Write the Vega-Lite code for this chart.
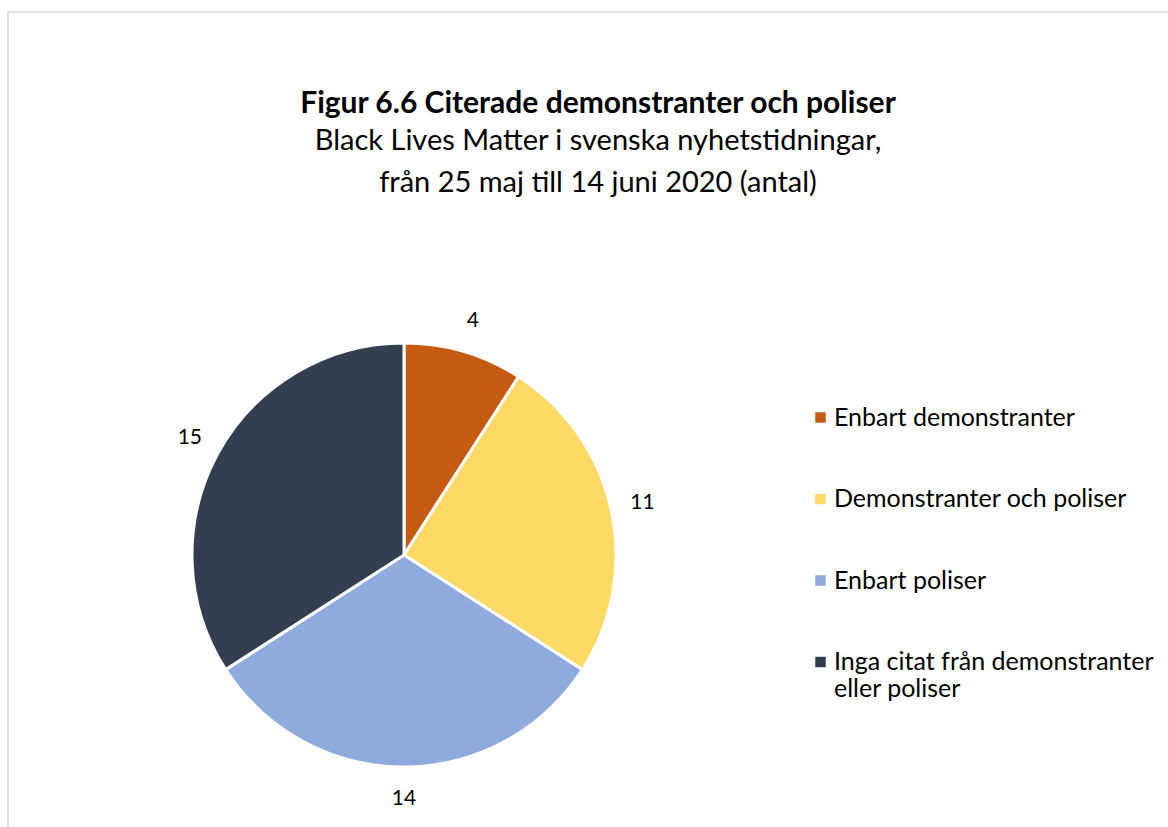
{
  "$schema": "https://vega.github.io/schema/vega-lite/v6.json",
  "autosize": {"type": "none"},
  "width": 1164,
  "height": 820,
  "padding": {"left": 8, "top": 12, "right": -4, "bottom": -5},
  "background": "white",
  "config": {
    "view": {"stroke": "#d9d9d9", "strokeWidth": 1.5},
    "font": "Lato"
  },
  "title": {
    "text": "Figur 6.6 Citerade demonstranter och poliser",
    "subtitle": ["Black Lives Matter i svenska nyhetstidningar,", "från 25 maj till 14 juni 2020 (antal)"],
    "anchor": "middle",
    "font": "Lato",
    "fontSize": 30,
    "fontWeight": "bold",
    "color": "#000000",
    "subtitleFont": "Lato",
    "subtitleFontSize": 29,
    "subtitleColor": "#000000",
    "subtitleLineHeight": 42,
    "subtitlePadding": 8,
    "dx": 8,
    "dy": 190
  },
  "data": {
    "values": [
      {"kategori": "Enbart demonstranter", "antal": 4},
      {"kategori": "Demonstranter och poliser", "antal": 11},
      {"kategori": "Enbart poliser", "antal": 14},
      {"kategori": "Inga citat från demonstranter eller poliser", "antal": 15}
    ]
  },
  "encoding": {
    "theta": {"field": "antal", "type": "quantitative", "stack": true},
    "order": {"field": "antal", "type": "quantitative", "sort": "ascending"},
    "x": {"value": 396},
    "y": {"value": 543}
  },
  "layer": [
    {
      "mark": {"type": "arc", "outerRadius": 212, "stroke": "white", "strokeWidth": 3},
      "encoding": {
        "color": {
          "field": "kategori",
          "type": "nominal",
          "scale": {
            "domain": ["Enbart demonstranter", "Demonstranter och poliser", "Enbart poliser", "Inga citat från demonstranter eller poliser"],
            "range": ["#C55A11", "#FFD966", "#8FAADC", "#333F50"]
          },
          "legend": {
            "title": null,
            "orient": "none",
            "legendX": 800,
            "legendY": 393,
            "padding": 0,
            "symbolType": "square",
            "symbolSize": 110,
            "symbolStrokeWidth": 0,
            "labelFont": "Lato",
            "labelFontSize": 25,
            "labelColor": "#000000",
            "labelOffset": 1,
            "labelLimit": 500,
            "labelBaseline": "middle",
            "rowPadding": 55.5,
            "labelExpr": "datum.label == 'Inga citat från demonstranter eller poliser' ? ['Inga citat från demonstranter', 'eller poliser'] : datum.label",
            "encode": {"labels": {"update": {"lineHeight": {"value": 31}}}}
          }
        }
      }
    },
    {
      "mark": {"type": "text", "radius": 244, "font": "Lato", "fontSize": 21, "color": "#000000", "align": "center", "baseline": "middle"},
      "encoding": {
        "text": {"field": "antal", "type": "quantitative"}
      }
    }
  ]
}
